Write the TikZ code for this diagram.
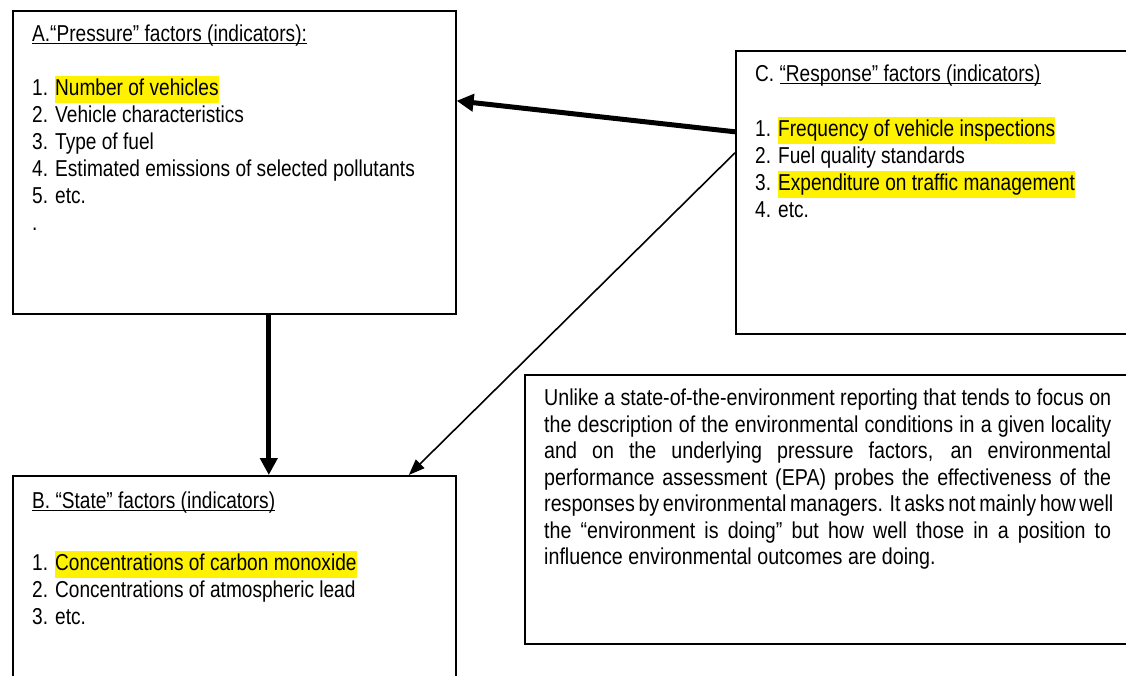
\documentclass[tikz,border=0pt]{standalone}
\usepackage{fontspec}
\setmainfont{Liberation Sans}[FakeStretch=0.83]
\newfontfamily\notefont{Liberation Sans}[FakeStretch=0.855]
\usepackage{xcolor}
\usetikzlibrary{arrows.meta, positioning}

\newsavebox{\ulbox}
\newcommand{\underlined}[1]{\sbox{\ulbox}{#1}\rlap{\rule[-2.8pt]{\wd\ulbox}{1.4pt}}\usebox{\ulbox}}
\newcommand{\marked}[1]{{\setlength{\fboxsep}{0pt}\colorbox{yellow}{\strut #1}}}
\newcommand{\jline}[1]{\makebox[567pt][s]{#1}}

\begin{document}
\begin{tikzpicture}[
            x=1pt, y=-1pt,
            factorbox/.style={draw, line width=1.6pt, rectangle, anchor=north west, inner sep=0pt},
            listtext/.style={anchor=north west, inner sep=0pt, align=left, font=\fontsize{23}{27}\selectfont},
            notetext/.style={anchor=north west, inner sep=0pt, align=left, font=\notefont\fontsize{23}{26.5}\selectfont},
            bigarrow/.style={line width=5pt, -{Triangle[length=17pt, width=17pt]}},
            thinarrow/.style={line width=1.6pt, -{Triangle[length=16pt, width=12pt]}}
        ]
        \useasboundingbox (0,0) rectangle (1126,675);
        \clip (0,0) rectangle (1126,675);

        % the four boxes
        \node[factorbox, minimum width=443, minimum height=303] (pressure) at (12,10) {};
        \node[factorbox, minimum width=420, minimum height=283] (response) at (735,50) {};
        \node[factorbox, minimum width=443, minimum height=260] (state) at (12,475) {};
        \node[factorbox, minimum width=630, minimum height=269] (note) at (524,374) {};

        % their texts
        \node[listtext] (pressuretext) at ([shift={(20,12)}]pressure.north west)
            {\strut\underlined{A.“Pressure” factors (indicators):}\\[27pt]
             1. \marked{Number of vehicles}\\
             2. Vehicle characteristics\\
             3. Type of fuel\\
             4. Estimated emissions of selected pollutants\\
             5. etc.\\
             .};
        \node[listtext] (responsetext) at ([shift={(20,12)}]response.north west)
            {\strut C. \underlined{“Response” factors (indicators)}\\[28pt]
             1. \marked{Frequency of vehicle inspections}\\
             2. Fuel quality standards\\
             3. \marked{Expenditure on traffic management}\\
             4. etc.};
        \node[listtext] (statetext) at ([shift={(20,14)}]state.north west)
            {\strut\underlined{B. “State” factors (indicators)}\\[35pt]
             1. \marked{Concentrations of carbon monoxide}\\
             2. Concentrations of atmospheric lead\\
             3. etc.};
        \node[notetext] (notebody) at ([shift={(20,13)}]note.north west)
            {\strut\jline{Unlike a state-of-the-environment reporting that tends to focus on}\\
             \jline{the description of the environmental conditions in a given locality}\\
             \jline{and on the underlying pressure factors, an environmental}\\
             \jline{performance assessment (EPA) probes the effectiveness of the}\\
             \jline{responses by environmental managers. It asks not mainly how well}\\
             \jline{the “environment is doing” but how well those in a position to}\\
             influence environmental outcomes are doing.};

        % arrows
        \draw[bigarrow] ([yshift=60.5]response.west) -- ([yshift=61.5]pressure.east);
        \draw[bigarrow] ([xshift=34.5]pressure.south) -- ([xshift=34.5]state.north);
        \draw[thinarrow] ([yshift=39.5]response.west) -- ([xshift=174.5]state.north);
\end{tikzpicture}
\end{document}
